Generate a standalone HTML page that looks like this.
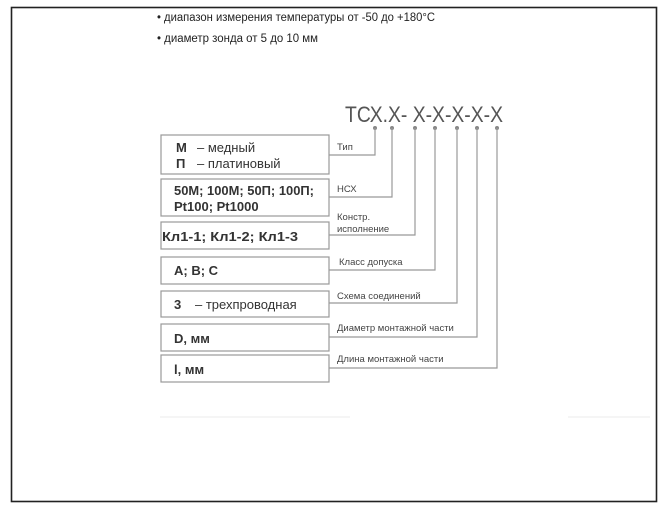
<!DOCTYPE html>
<html><head><meta charset="utf-8"><style>
html,body{margin:0;padding:0;background:#fff;width:670px;height:512px;overflow:hidden}
svg{display:block}
text{font-family:"Liberation Sans","Noto Sans CJK SC",sans-serif}
</style></head><body>
<svg width="670" height="512" viewBox="0 0 670 512">
<rect x="11.5" y="7.5" width="645" height="494" fill="none" stroke="#222" stroke-width="1.6"/>
<text x="157" y="21" font-size="11.5" fill="#222" textLength="278" lengthAdjust="spacingAndGlyphs">• диапазон измерения температуры от -50 до +180°C</text>
<text x="157" y="42" font-size="11.5" fill="#222" textLength="161" lengthAdjust="spacingAndGlyphs">• диаметр зонда от 5 до 10 мм</text>
<text x="345" y="122" font-size="22" fill="#555" textLength="158" lengthAdjust="spacingAndGlyphs">ТСХ.Х- Х-Х-Х-Х-Х</text>
<g fill="#888">
<circle cx="375" cy="128" r="2"/><circle cx="392" cy="128" r="2"/><circle cx="415" cy="128" r="2"/><circle cx="435" cy="128" r="2"/><circle cx="457" cy="128" r="2"/><circle cx="477" cy="128" r="2"/><circle cx="497" cy="128" r="2"/>
</g>
<g fill="none" stroke="#999" stroke-width="1.2">
<rect x="161" y="135" width="168" height="39"/>
<rect x="161" y="179" width="168" height="37"/>
<rect x="161" y="222" width="168" height="27"/>
<rect x="161" y="257" width="168" height="27"/>
<rect x="161" y="291" width="168" height="26"/>
<rect x="161" y="324" width="168" height="27"/>
<rect x="161" y="355" width="168" height="27"/>
<polyline points="329,155 375,155 375,128"/>
<polyline points="329,197 392,197 392,128"/>
<polyline points="329,235 415,235 415,128"/>
<polyline points="329,270 435,270 435,128"/>
<polyline points="329,303 457,303 457,128"/>
<polyline points="329,337 477,337 477,128"/>
<polyline points="329,368 497,368 497,128"/>
</g>
<line x1="160" y1="417" x2="350" y2="417" stroke="#f2f2f2" stroke-width="1.5"/>
<line x1="568" y1="417" x2="650" y2="417" stroke="#f2f2f2" stroke-width="1.5"/>
<g font-size="13" fill="#333">
<text x="176" y="152" font-weight="bold">М</text><text x="197" y="152">– медный</text>
<text x="176" y="168" font-weight="bold">П</text><text x="197" y="168">– платиновый</text>
<text x="174" y="195" font-weight="bold" textLength="140" lengthAdjust="spacingAndGlyphs">50М; 100М; 50П; 100П;</text>
<text x="174" y="211" font-weight="bold">Pt100; Pt1000</text>
<text x="162" y="241" font-weight="bold" textLength="136" lengthAdjust="spacingAndGlyphs">Кл1-1; Кл1-2; Кл1-3</text>
<text x="174" y="275" font-weight="bold">A; B; C</text>
<text x="174" y="309" font-weight="bold">3</text><text x="195" y="309">– трехпроводная</text>
<text x="174" y="343" font-weight="bold">D, мм</text>
<text x="174" y="374" font-weight="bold">l, мм</text>
</g>
<g font-size="9.5" fill="#444">
<text x="337" y="150">Тип</text>
<text x="337" y="192">НСХ</text>
<text x="337" y="220">Констр.</text>
<text x="337" y="232">исполнение</text>
<text x="339" y="265">Класс допуска</text>
<text x="337" y="299">Схема соединений</text>
<text x="337" y="331">Диаметр монтажной части</text>
<text x="337" y="362">Длина монтажной части</text>
</g>
</svg>
</body></html>
